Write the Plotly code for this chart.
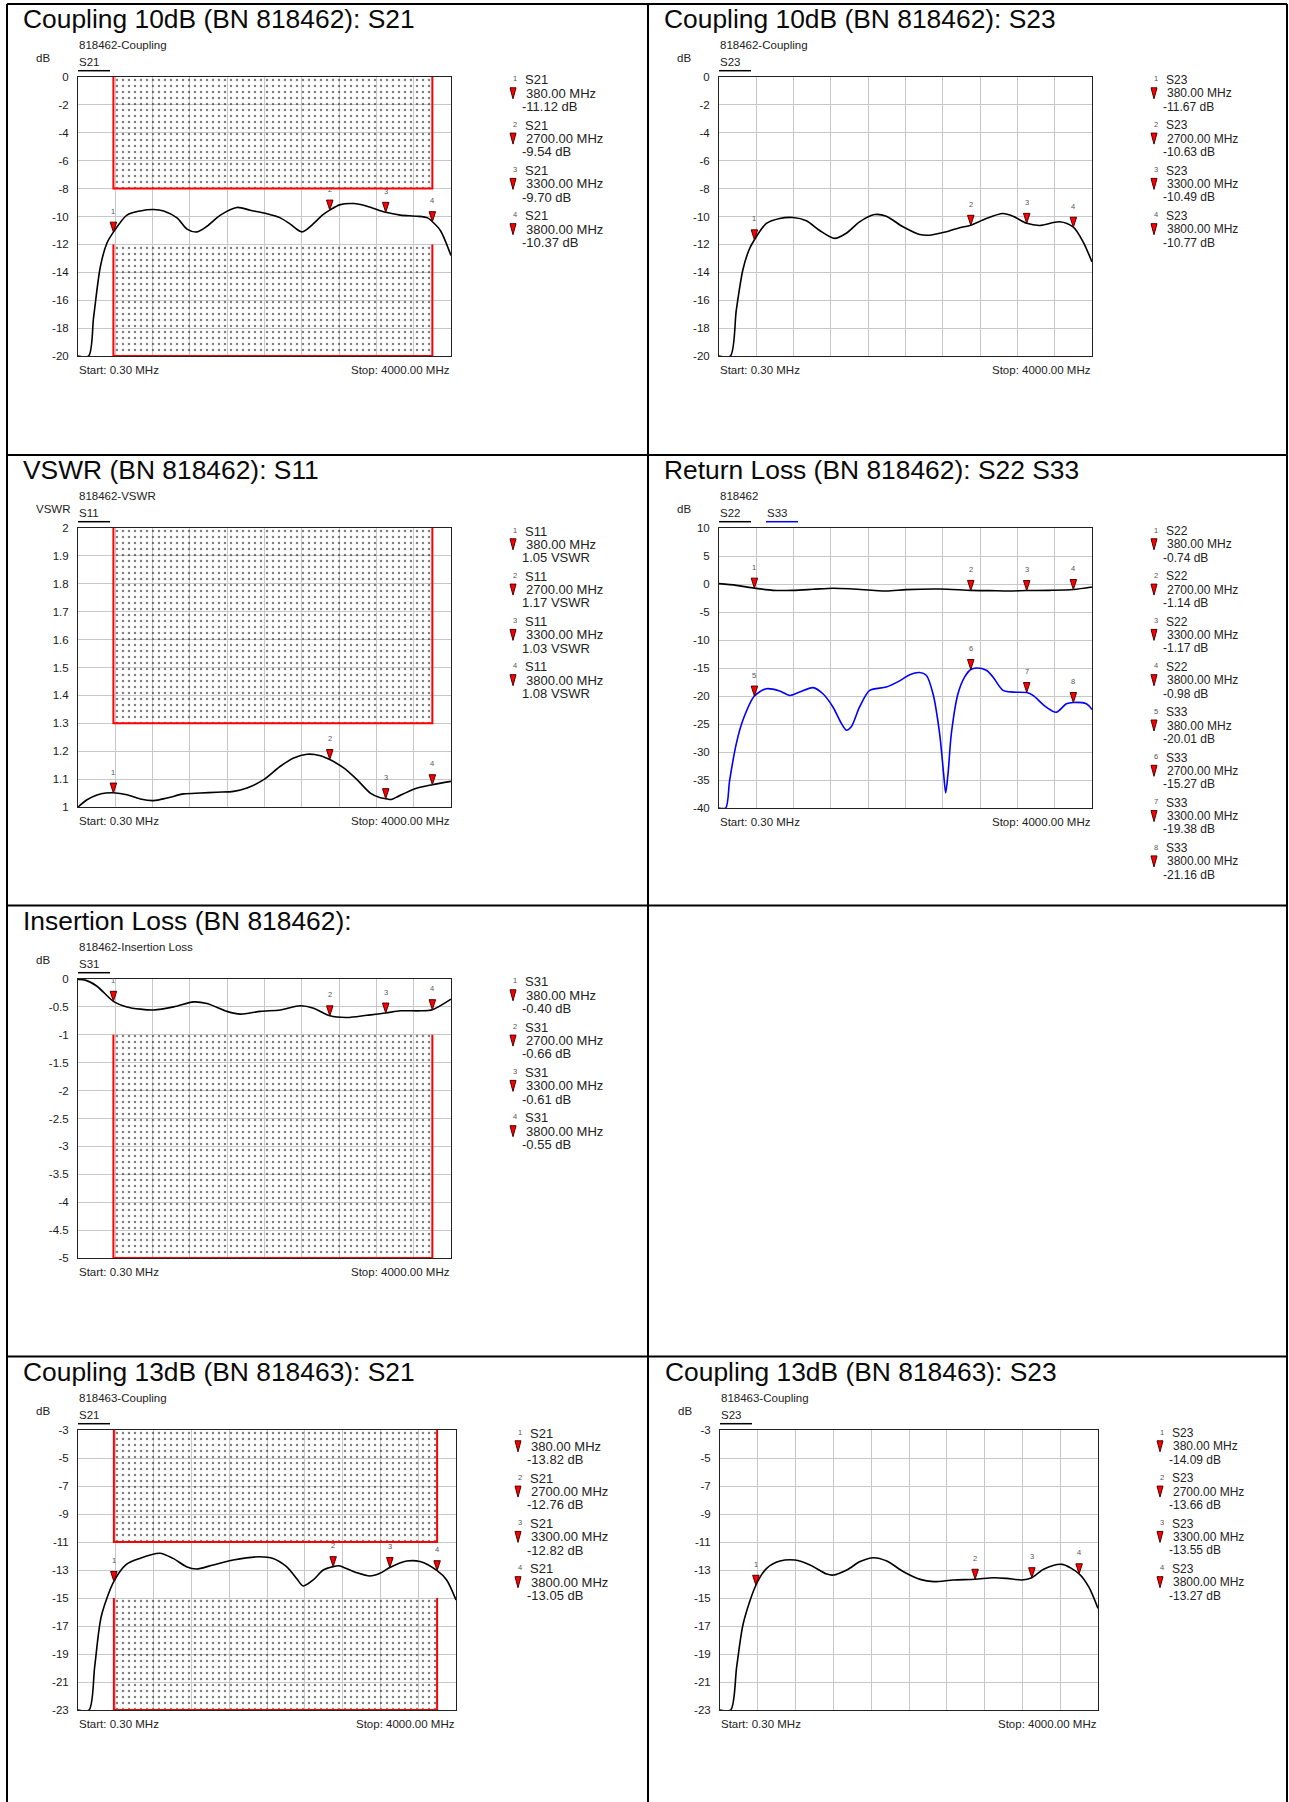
import plotly.graph_objects as go

# ---------------------------------------------------------------- data
F_START, F_STOP = 0.30, 4000.0
marker_f = [380, 2700, 3300, 3800]
limit_f = [380, 3800]

# Coupling 10dB (BN 818462): S21
c10_s21_f = [0.3, 114, 168, 240, 311, 380, 525, 668, 811, 919, 1062, 1169, 1276, 1383, 1527, 1705, 1848,
             2027, 2170, 2277, 2402, 2528, 2620, 2700, 2813, 2957, 3100, 3300, 3457, 3636, 3750, 3800, 3886, 4000]
c10_s21_db = [-20, -20, -17.2, -13.6, -11.9, -11.12, -9.9, -9.6, -9.5, -9.6, -10.1, -10.9, -11.1, -10.7, -9.9,
              -9.35, -9.55, -9.8, -10.1, -10.55, -11.1, -10.5, -9.9, -9.54, -9.15, -9.07, -9.26, -9.70, -9.9,
              -9.98, -10.1, -10.37, -11.0, -12.8]
c10_s21_mk = [-11.12, -9.54, -9.70, -10.37]

# Coupling 10dB (BN 818462): S23
c10_s23_f = [0.3, 122, 186, 257, 322, 380, 508, 651, 794, 937, 1080, 1240, 1365, 1508, 1669, 1794, 1973, 2152,
             2259, 2438, 2581, 2700, 2867, 3046, 3153, 3300, 3439, 3653, 3800, 3903, 4000]
c10_s23_db = [-20, -20, -16.7, -13.8, -12.4, -11.67, -10.5, -10.14, -10.07, -10.3, -11.0, -11.57, -11.2, -10.38,
              -9.86, -9.98, -10.74, -11.29, -11.34, -11.1, -10.8, -10.63, -10.14, -9.79, -9.98, -10.49, -10.64,
              -10.38, -10.77, -11.8, -13.25]
c10_s23_mk = [-11.67, -10.63, -10.49, -10.77]

# VSWR (BN 818462): S11
vswr_s11_f = [0.3, 97, 204, 300, 380, 525, 668, 811, 954, 1133, 1312, 1491, 1669, 1812, 1991, 2170, 2313, 2456,
              2599, 2700, 2849, 2992, 3135, 3242, 3300, 3360, 3421, 3600, 3800, 4000]
vswr_s11 = [1.0, 1.026, 1.043, 1.05, 1.051, 1.044, 1.029, 1.023, 1.032, 1.047, 1.05, 1.053, 1.056, 1.068, 1.098,
            1.146, 1.176, 1.189, 1.184, 1.17, 1.14, 1.098, 1.05, 1.033, 1.03, 1.027, 1.036, 1.064, 1.08, 1.092]
vswr_s11_mk = [1.05, 1.17, 1.03, 1.08]

# Return Loss (BN 818462): S22 S33
rl_s22_f = [0.3, 186, 380, 579, 794, 1008, 1222, 1437, 1794, 2009, 2366, 2700, 2903, 3117, 3300, 3546, 3800, 4000]
rl_s22_db = [0.06, -0.24, -0.74, -1.13, -1.13, -0.95, -0.75, -0.89, -1.25, -1.0, -0.89, -1.14, -1.19, -1.25,
             -1.17, -1.13, -0.98, -0.54]
rl_s22_mk = [-0.74, -1.14, -1.17, -0.98]
rl_s33_f = [0.3, 72, 114, 186, 257, 380, 508, 651, 758, 865, 1008, 1115, 1222, 1312, 1366, 1419, 1508, 1616,
            1794, 1937, 2045, 2152, 2223, 2295, 2366, 2409, 2431, 2456, 2492, 2563, 2635, 2700, 2760, 2867, 2938,
            3046, 3153, 3300, 3367, 3510, 3617, 3725, 3800, 3939, 4000]
rl_s33_db = [-40, -40, -35.1, -28.5, -24.3, -20.01, -18.7, -19.1, -19.9, -19.3, -18.5, -19.6, -21.96, -24.9,
             -26.1, -25.5, -21.96, -19.0, -18.4, -17.3, -16.2, -15.8, -16.3, -19.6, -26.7, -33.9, -37.3, -33.9,
             -26.7, -19.6, -16.6, -15.27, -15.0, -15.4, -16.6, -19.0, -19.3, -19.38, -19.9, -22.0, -22.9, -21.4,
             -21.16, -21.4, -22.4]
rl_s33_mk = [-20.01, -15.27, -19.38, -21.16]

# Insertion Loss (BN 818462): S31
il_s31_f = [0.3, 79, 204, 380, 525, 668, 811, 1026, 1240, 1383, 1598, 1741, 1955, 2170, 2384, 2527, 2700, 2885,
            3099, 3300, 3457, 3671, 3800, 4000]
il_s31_db = [-0.01, -0.02, -0.13, -0.40, -0.50, -0.54, -0.555, -0.50, -0.41, -0.44, -0.58, -0.63, -0.58, -0.555,
             -0.48, -0.525, -0.66, -0.69, -0.65, -0.61, -0.57, -0.57, -0.55, -0.36]
il_s31_mk = [-0.40, -0.66, -0.61, -0.55]

# Coupling 13dB (BN 818463): S21
c13_s21_f = [0.3, 117, 177, 247, 380, 512, 653, 865, 1006, 1147, 1253, 1430, 1642, 1924, 2065, 2207, 2313, 2383,
             2489, 2595, 2700, 2760, 2807, 2948, 3089, 3195, 3300, 3478, 3619, 3800, 3901, 4000]
c13_s21_db = [-23, -23, -19.9, -16.3, -13.82, -12.6, -12.17, -11.8, -12.17, -12.76, -12.93, -12.64, -12.29,
              -12.05, -12.17, -12.76, -13.6, -14.14, -13.71, -13.0, -12.76, -12.7, -12.8, -13.19, -13.43, -13.24,
              -12.82, -12.36, -12.4, -13.05, -13.71, -15.14]
c13_s21_mk = [-13.82, -12.76, -12.82, -13.05]

# Coupling 13dB (BN 818463): S23
c13_s23_f = [0.3, 113, 177, 247, 380, 494, 636, 794, 953, 1130, 1200, 1342, 1483, 1624, 1765, 1942, 2118, 2260,
             2471, 2700, 2895, 3036, 3195, 3300, 3425, 3619, 3800, 3901, 4000]
c13_s23_db = [-23, -23, -19.9, -16.8, -14.09, -12.88, -12.36, -12.29, -12.64, -13.29, -13.36, -13.0, -12.4,
              -12.12, -12.36, -13.12, -13.67, -13.83, -13.71, -13.66, -13.55, -13.6, -13.71, -13.55, -12.95,
              -12.6, -13.27, -14.19, -15.74]
c13_s23_mk = [-14.09, -13.66, -13.55, -13.27]

# limit boxes (dB / VSWR)
c10_limit_upper = [0, -8]
c10_limit_lower = [-12, -20]
vswr_limit = [2, 1.3]
il_limit = [-1, -5]
c13_limit_upper = [-3, -11]
c13_limit_lower = [-15, -23]

# y tick values
c10_yticks = [0, -2, -4, -6, -8, -10, -12, -14, -16, -18, -20]
vswr_yticks = [2, 1.9, 1.8, 1.7, 1.6, 1.5, 1.4, 1.3, 1.2, 1.1, 1]
rl_yticks = [10, 5, 0, -5, -10, -15, -20, -25, -30, -35, -40]
il_yticks = [0, -0.5, -1, -1.5, -2, -2.5, -3, -3.5, -4, -4.5, -5]
c13_yticks = [-3, -5, -7, -9, -11, -13, -15, -17, -19, -21, -23]

# ---------------------------------------------------------------- layout
W, H = 1289, 1802
FONT = "Liberation Sans, Arial, sans-serif"
GRID = "#c8c8c8"


def X(px):
    return px / W


def Y(py):
    return 1 - py / H


panels = [
    dict(box=(78, 77, 451, 356), title="Coupling 10dB (BN 818462): S21", sub="818462-Coupling", unit="dB",
         yticks=c10_yticks, unitfmt="dB", lfs=13,
         curves=[("S21", c10_s21_f, c10_s21_db, "black")],
         markers=[("S21", c10_s21_mk, "black")],
         limits=[c10_limit_upper, c10_limit_lower]),
    dict(box=(719, 77, 1092, 356), title="Coupling 10dB (BN 818462): S23", sub="818462-Coupling", unit="dB",
         yticks=c10_yticks, unitfmt="dB", lfs=12,
         curves=[("S23", c10_s23_f, c10_s23_db, "black")],
         markers=[("S23", c10_s23_mk, "black")],
         limits=[]),
    dict(box=(78, 528, 451, 807), title="VSWR (BN 818462): S11", sub="818462-VSWR", unit="VSWR",
         yticks=vswr_yticks, unitfmt="VSWR", lfs=13,
         curves=[("S11", vswr_s11_f, vswr_s11, "black")],
         markers=[("S11", vswr_s11_mk, "black")],
         limits=[vswr_limit]),
    dict(box=(719, 528, 1092, 808), title="Return Loss (BN 818462): S22 S33", sub="818462", unit="dB",
         yticks=rl_yticks, unitfmt="dB", lfs=12,
         curves=[("S22", rl_s22_f, rl_s22_db, "black"), ("S33", rl_s33_f, rl_s33_db, "#0000ff")],
         markers=[("S22", rl_s22_mk, "black"), ("S33", rl_s33_mk, "#0000ff")],
         limits=[]),
    dict(box=(78, 979, 451, 1258), title="Insertion Loss (BN 818462):", sub="818462-Insertion Loss", unit="dB",
         yticks=il_yticks, unitfmt="dB", lfs=13,
         curves=[("S31", il_s31_f, il_s31_db, "black")],
         markers=[("S31", il_s31_mk, "black")],
         limits=[il_limit]),
    dict(box=(78, 1430, 456, 1710), title="Coupling 13dB (BN 818463): S21", sub="818463-Coupling", unit="dB",
         yticks=c13_yticks, unitfmt="dB", lfs=13,
         curves=[("S21", c13_s21_f, c13_s21_db, "black")],
         markers=[("S21", c13_s21_mk, "black")],
         limits=[c13_limit_upper, c13_limit_lower]),
    dict(box=(720, 1430, 1098, 1710), title="Coupling 13dB (BN 818463): S23", sub="818463-Coupling", unit="dB",
         yticks=c13_yticks, unitfmt="dB", lfs=12,
         curves=[("S23", c13_s23_f, c13_s23_db, "black")],
         markers=[("S23", c13_s23_mk, "black")],
         limits=[]),
]

fig = go.Figure()
annotations = []
shapes = []
layout_axes = {}


def txt(x, yc, text, size, anchor="left", color="#111111"):
    annotations.append(dict(xref="paper", yref="paper", x=X(x), y=Y(yc), text=text, showarrow=False,
                            xanchor=anchor, yanchor="middle", borderpad=0,
                            font=dict(size=size, color=color, family=FONT)))


def txt_base(x, ybase, text, size, anchor="left", color="#111111"):
    txt(x, ybase - 0.35 * size, text, size, anchor, color)


x_grid = [F_START + k * (F_STOP - F_START) / 10 for k in range(11)]

for i, p in enumerate(panels):
    n = i + 1
    xs = "x" if n == 1 else f"x{n}"
    ys = "y" if n == 1 else f"y{n}"
    x0, y0, x1, y1 = p["box"]
    yt = p["yticks"]
    ymin, ymax = min(yt), max(yt)

    layout_axes["xaxis" if n == 1 else f"xaxis{n}"] = dict(
        domain=[X(x0), X(x1)], range=[F_START, F_STOP], anchor=ys, tickvals=x_grid, showticklabels=False,
        showgrid=True, gridcolor=GRID, gridwidth=1, zeroline=False, showline=True, mirror=True,
        linecolor="#222222", linewidth=1, ticks="", fixedrange=True, automargin=False)
    layout_axes["yaxis" if n == 1 else f"yaxis{n}"] = dict(
        domain=[Y(y1), Y(y0)], range=[ymin, ymax], anchor=xs, tickvals=yt, ticktext=["%g" % v for v in yt],
        showgrid=True, gridcolor=GRID, gridwidth=1, zeroline=False, showline=True, mirror=True,
        linecolor="#222222", linewidth=1, ticks="", ticklabelstandoff=6, fixedrange=True, automargin=False,
        tickfont=dict(size=11.5, color="#1a1a1a", family=FONT))

    # limit boxes
    for lim in p["limits"]:
        edge, inner = lim[0], lim[1]
        fig.add_trace(go.Scatter(
            x=[limit_f[0], limit_f[0], limit_f[1], limit_f[1]], y=[edge, inner, inner, edge],
            xaxis=xs, yaxis=ys, mode="lines", fill="toself", fillcolor="rgba(0,0,0,0)",
            fillpattern=dict(shape=".", fgcolor="black", bgcolor="rgba(0,0,0,0)", size=6, solidity=0.13),
            line=dict(color="#ff0000", width=2), hoverinfo="skip"))

    # curves
    for name, fx, fy, col in p["curves"]:
        fig.add_trace(go.Scatter(x=fx, y=fy, xaxis=xs, yaxis=ys, mode="lines", name=name,
                                 line=dict(color=col, width=1.6, shape="spline", smoothing=0.8)))

    # markers on curves
    num = 0
    legend_entries = []
    for name, mk, col in p["markers"]:
        fig.add_trace(go.Scatter(x=marker_f, y=mk, xaxis=xs, yaxis=ys, mode="markers", cliponaxis=False,
                                 marker=dict(symbol="arrow", angle=180, size=10.5, color="#ff0000",
                                             line=dict(color="#500000", width=1))))
        for f, v in zip(marker_f, mk):
            num += 1
            annotations.append(dict(xref=xs, yref=ys, x=f, y=v, yshift=21, text=str(num), showarrow=False,
                                    font=dict(size=7.5, color="#555555", family=FONT)))
            legend_entries.append((num, name, f, v))

    # texts
    txt_base(x0 - 56, y0 - 49, p["title"], 26.4, color="#0a0a0a")
    txt_base(x0, y0 - 28, p["sub"], 11.5, color="#222222")
    txt_base(x0 - 43, y0 - 15, p["unit"], 11.5, color="#222222")
    for k, (name, fx, fy, col) in enumerate(p["curves"]):
        lx = x0 + 47 * k
        txt_base(lx, y0 - 11, name, 11.5, color="#222222")
        shapes.append(dict(type="line", xref="paper", yref="paper", x0=X(lx), x1=X(lx + 32),
                           y0=Y(y0 - 6.3), y1=Y(y0 - 6.3), line=dict(color=col, width=1.5)))
    txt_base(x0, y1 + 18.5, "Start: %.2f MHz" % F_START, 11.5, color="#222222")
    txt_base(x1, y1 + 18.5, "Stop: %.2f MHz" % F_STOP, 11.5, anchor="right", color="#222222")

    # marker legend on the right
    lfs = p["lfs"]
    for k, (num, name, f, v) in enumerate(legend_entries):
        gy = y0 + 3 + k * 45.3
        txt(x1 + 61, gy - 1, str(num), 7.5, color="#555555")
        txt(x1 + 73, gy, name, lfs, color="#222222")
        txt(x1 + 73.5, gy + 13.3, "%.2f MHz" % f, lfs, color="#222222")
        txt(x1 + 69.5, gy + 26.6, "%.2f %s" % (v, p["unitfmt"]), lfs, color="#222222")
        shapes.append(dict(type="path", xref="paper", yref="paper", xsizemode="pixel", ysizemode="pixel",
                           xanchor=X(x1 + 62), yanchor=Y(gy + 13.3),
                           path="M-3,5.5 L3,5.5 L0,-5.5 Z", fillcolor="#ff0000",
                           line=dict(color="#500000", width=1)))

# table grid
TL, TR, TT, TB = 7, 1287, 4, 1802
for xv in (TL, 648, TR):
    shapes.append(dict(type="line", xref="paper", yref="paper", x0=X(xv), x1=X(xv), y0=Y(TT), y1=Y(TB),
                       line=dict(color="black", width=2)))
for yv in (TT, 455, 905.5, 1356.5):
    shapes.append(dict(type="line", xref="paper", yref="paper", x0=X(TL), x1=X(TR), y0=Y(yv), y1=Y(yv),
                       line=dict(color="black", width=2)))

fig.update_layout(width=W, height=H, margin=dict(l=0, r=0, t=0, b=0, pad=0, autoexpand=False),
                  paper_bgcolor="white", plot_bgcolor="white", showlegend=False,
                  annotations=annotations, shapes=shapes, font=dict(family=FONT), **layout_axes)

fig.write_html("out.html", config={"displayModeBar": False},
               post_script="document.body.style.margin='0px';document.body.style.overflow='hidden';")
